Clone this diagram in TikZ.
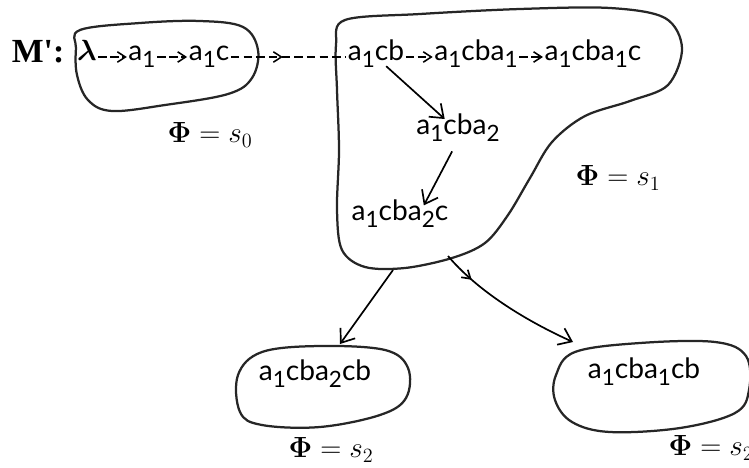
\documentclass[tikz,border=0pt]{standalone}
\usepackage{amsmath}
\usepackage[no-math]{fontspec}
\setmainfont{Lato}
\newfontfamily\mfont{Liberation Serif}
\usetikzlibrary{arrows.meta, decorations.markings}
\newcommand{\dn}[1]{\raisebox{-.5ex}{\fontsize{16}{18}\selectfont #1}}
\tikzset{
  word/.style={font=\fontsize{20}{24}\selectfont, inner sep=1pt,
               text height=1.5ex, text depth=.6ex},
  phi/.style={font=\fontsize{20}{24}\selectfont, inner sep=0pt},
  blob/.style={line width=1.6pt, draw=black!85, line join=round},
  dasharr/.style={line width=1.1pt, dash pattern=on 6pt off 2.5pt,
                  -{Straight Barb[length=2mm, width=2.6mm]}},
  longdash/.style={line width=1.1pt, dash pattern=on 6pt off 3pt, postaction={decorate},
                   decoration={markings, mark=at position 0.45 with {\arrow{Straight Barb[length=2mm, width=2.6mm]}}}},
  solarr/.style={line width=1.2pt, -{Straight Barb[length=3mm, width=4.5mm]}},
  midarr/.style={postaction={decorate},
                 decoration={markings, mark=at position 0.22 with {\arrow{Straight Barb[length=2mm, width=2.5mm]}}}},
}

\begin{document}
\begin{tikzpicture}[x=0.025cm, y=-0.025cm]
  \useasboundingbox (0,0) rectangle (749,467);
  % blobs
  \draw[blob] plot[smooth cycle, tension=0.6] coordinates {(80,30) (140,23) (200,21) (243,27) (258,50)
    (252,78) (228,94) (165,105) (112,111) (88,100) (77,75) (76,48)};
  \draw[blob] plot[smooth cycle, tension=0.55] coordinates {(345,20) (420,14) (520,9) (610,8) (665,18)
    (682,48) (668,85) (630,101) (585,116) (552,142) (530,178) (508,215) (485,243) (452,258) (405,268)
    (365,267) (342,250) (337,210) (339,150) (337,90) (336,45)};
  \draw[blob] plot[smooth cycle, tension=0.6] coordinates {(238,375) (262,352) (320,346) (385,350)
    (408,368) (406,398) (380,415) (320,427) (262,425) (240,412)};
  \draw[blob] plot[smooth cycle, tension=0.6] coordinates {(556,375) (575,352) (640,343) (715,342)
    (746,356) (749,390) (735,413) (680,428) (610,432) (572,422) (555,400)};

  % states
  \node[inner sep=0pt, font=\mfont\bfseries\fontsize{24}{26}\selectfont] (mm) at (38,52) {M':};
  \node[word] (lam) at (87,57) {$\boldsymbol{\lambda}$};
  \node[word] (a1) at (142,57) {a\dn{1}};
  \node[word] (a1c) at (209,57) {a\dn{1}c};
  \node[word] (a1cb) at (376,57) {a\dn{1}cb};
  \node[word] (a1cba1) at (476,57) {a\dn{1}cba\dn{1}};
  \node[word] (a1cba1c) at (593,57) {a\dn{1}cba\dn{1}c};
  \node[word] (a1cba2) at (458,131) {a\dn{1}cba\dn{2}};
  \node[word] (a1cba2c) at (400,217) {a\dn{1}cba\dn{2}c};
  \node[word] (a1cba2cb) at (315,377) {a\dn{1}cba\dn{2}cb};
  \node[word] (a1cba1cb) at (644,375) {a\dn{1}cba\dn{1}cb};

  % labels
  \node[phi] (phi0) at (210,135) {$\mathbf{\Phi} = s_0$};
  \node[phi] (phi1) at (618,178) {$\mathbf{\Phi} = s_1$};
  \node[phi] (phi2) at (331,450) {$\mathbf{\Phi} = s_2$};
  \node[phi] (phi3) at (711,448) {$\mathbf{\Phi} = s_2$};

  \coordinate (s1out) at (393,270);
  \coordinate (s2in) at (340,344);
  \coordinate (s1out2) at (448,256);
  \coordinate (s3in) at (573,342);

  % arrows
  \draw[dasharr] (lam) -- (a1);
  \draw[dasharr] (a1) -- (a1c);
  \draw[longdash] (a1c) -- (a1cb);
  \draw[dasharr] (a1cb) -- (a1cba1);
  \draw[dasharr] (a1cba1) -- (a1cba1c);
  \draw[solarr, shorten >=3pt] (a1cb) -- (a1cba2);
  \draw[solarr, shorten <=9pt, shorten >=2pt] (a1cba2.south) -- ([xshift=16pt]a1cba2c.north);
  \draw[solarr] (s1out) -- (s2in);
  \draw[solarr, midarr] (s1out2) .. controls (475,288) and (520,318) .. (s3in);
\end{tikzpicture}
\end{document}
